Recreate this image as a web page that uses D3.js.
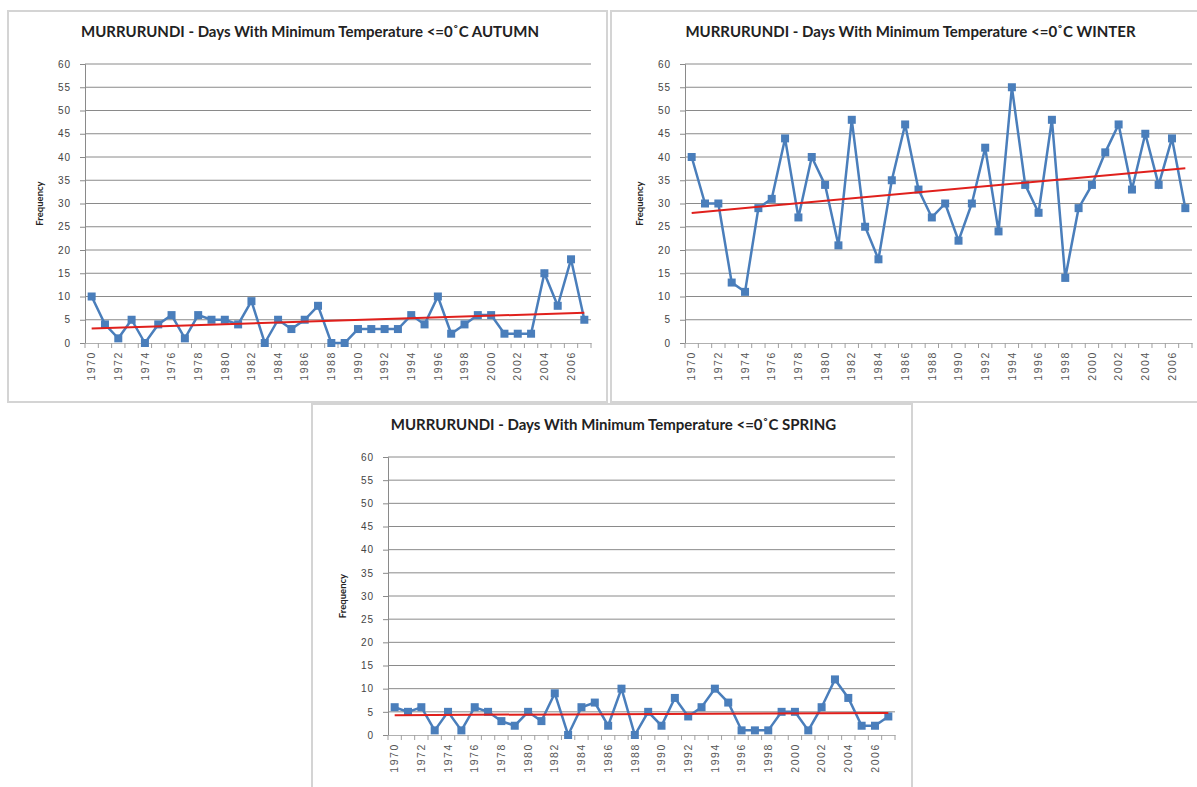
<!DOCTYPE html>
<html>
<head>
<meta charset="utf-8">
<script src="https://cdn.jsdelivr.net/npm/d3@7"></script>
<style>
  body { margin: 0; background: #fff; }
  svg { display: block; font-family: Lato, "Liberation Sans", sans-serif; }
</style>
</head>
<body>
<div id="chart"></div>
<script>
// years on the category axis
var years = [];
for (var yr = 1970; yr <= 2007; yr++) years.push(yr);

// frequency of days with min temp <= 0C
var autumn = [10, 4, 1, 5, 0, 4, 6, 1, 6, 5, 5, 4, 9, 0, 5, 3, 5, 8, 0, 0,
              3, 3, 3, 3, 6, 4, 10, 2, 4, 6, 6, 2, 2, 2, 15, 8, 18, 5];
var winter = [40, 30, 30, 13, 11, 29, 31, 44, 27, 40, 34, 21, 48, 25, 18, 35, 47, 33, 27, 30,
              22, 30, 42, 24, 55, 34, 28, 48, 14, 29, 34, 41, 47, 33, 45, 34, 44, 29];
var spring = [6, 5, 6, 1, 5, 1, 6, 5, 3, 2, 5, 3, 9, 0, 6, 7, 2, 10, 0, 5,
              2, 8, 4, 6, 10, 7, 1, 1, 1, 5, 5, 1, 6, 12, 8, 2, 2, 4];

var yTicks = [0, 5, 10, 15, 20, 25, 30, 35, 40, 45, 50, 55, 60];
var titles = ["MURRURUNDI - Days With Minimum Temperature <=0\u02DAC AUTUMN",
              "MURRURUNDI - Days With Minimum Temperature <=0\u02DAC WINTER",
              "MURRURUNDI - Days With Minimum Temperature <=0\u02DAC SPRING"];

var W = 1197, H = 787;
var svg = d3.select("#chart").append("svg")
    .attr("width", W)
    .attr("height", H);

// panel boxes and plot areas
var panels = [
  {box: [8, 11, 599, 391], plot: {left: 85, right: 591, top: 64, bottom: 343}, data: autumn, title: titles[0]},
  {box: [611, 11, 590, 391], plot: {left: 685, right: 1192, top: 64, bottom: 343}, data: winter, title: titles[1]},
  {box: [312, 404, 600, 390], plot: {left: 388, right: 895, top: 457, bottom: 735}, data: spring, title: titles[2]}
];

function drawPanel(p) {
  var g = svg.append("g");

  g.append("rect")
    .attr("x", p.box[0]).attr("y", p.box[1])
    .attr("width", p.box[2]).attr("height", p.box[3])
    .attr("fill", "#fff")
    .attr("stroke", "#d4d4d4")
    .attr("stroke-width", 2);

  var x = d3.scaleBand()
      .domain(years)
      .range([p.plot.left, p.plot.right])
      .padding(0);
  var y = d3.scaleLinear()
      .domain([0, 60])
      .range([p.plot.bottom, p.plot.top]);
  var cx = function(d, i) { return x(years[i]) + x.bandwidth() / 2; };

  // gridlines
  g.selectAll(".grid")
    .data(yTicks.slice(1))
    .enter().append("line")
    .attr("x1", p.plot.left).attr("x2", p.plot.right)
    .attr("y1", function(d) { return y(d); })
    .attr("y2", function(d) { return y(d); })
    .attr("stroke", "#8a8a8a")
    .attr("stroke-width", 1);

  // y axis
  var yAxis = g.append("g")
      .attr("transform", "translate(" + p.plot.left + ",0)")
      .call(d3.axisLeft(y).tickValues(yTicks).tickSize(5).tickPadding(9));
  yAxis.select(".domain").attr("stroke", "#8a8a8a");
  yAxis.selectAll(".tick line").attr("stroke", "#8a8a8a");
  yAxis.selectAll("text")
    .attr("fill", "#444")
    .style("font-size", "10px")
    .style("letter-spacing", "1px");

  // x axis
  var xAxis = g.append("g")
      .attr("transform", "translate(0," + p.plot.bottom + ")")
      .call(d3.axisBottom(x).tickSize(0).tickFormat(function(d) { return d % 2 === 0 ? d : ""; }));
  xAxis.select(".domain").attr("stroke", "#b0b0b0");
  xAxis.selectAll("text")
    .attr("fill", "#555")
    .style("font-size", "10.5px")
    .style("letter-spacing", "1.6px")
    .style("text-anchor", "end")
    .attr("transform", "rotate(-90)")
    .attr("x", -8)
    .attr("y", 0)
    .attr("dy", ".35em");
  // tick marks between categories
  g.selectAll(".xtick")
    .data(years.concat([2008]))
    .enter().append("line")
    .attr("x1", function(d, i) { return p.plot.left + i * x.bandwidth(); })
    .attr("x2", function(d, i) { return p.plot.left + i * x.bandwidth(); })
    .attr("y1", p.plot.bottom)
    .attr("y2", p.plot.bottom + 5)
    .attr("stroke", "#a0a0a0");

  // series line
  var line = d3.line()
      .x(cx)
      .y(function(d) { return y(d); });
  g.append("path")
    .datum(p.data)
    .attr("d", line)
    .attr("fill", "none")
    .attr("stroke", "#4a7ebb")
    .attr("stroke-width", 2.5);

  g.selectAll(".mark")
    .data(p.data)
    .enter().append("rect")
    .attr("x", function(d, i) { return cx(d, i) - 4; })
    .attr("y", function(d) { return y(d) - 4; })
    .attr("width", 8).attr("height", 8)
    .attr("fill", "#4a7ebb");

  // linear trendline (least squares, like excel)
  var n = p.data.length;
  var mx = d3.mean(p.data, function(d, i) { return i; });
  var my = d3.mean(p.data);
  var sxy = d3.sum(p.data, function(d, i) { return (i - mx) * (d - my); });
  var sxx = d3.sum(p.data, function(d, i) { return (i - mx) * (i - mx); });
  var slope = sxy / sxx, icpt = my - slope * mx;
  g.append("line")
    .attr("x1", cx(0, 0)).attr("y1", y(icpt))
    .attr("x2", cx(0, n - 1)).attr("y2", y(icpt + slope * (n - 1)))
    .attr("stroke", "#e0201c")
    .attr("stroke-width", 2);

  // title
  g.append("text")
    .attr("x", (p.plot.left + p.plot.right) / 2 - 28)
    .attr("y", p.plot.top - 27)
    .attr("text-anchor", "middle")
    .style("font-size", "15px")
    .style("font-weight", "bold")
    .attr("fill", "#222")
    .text(p.title);

  // y label
  g.append("text")
    .attr("transform", "translate(" + (p.plot.left - 42) + "," + ((p.plot.top + p.plot.bottom) / 2) + ") rotate(-90)")
    .attr("text-anchor", "middle")
    .style("font-size", "9.5px")
    .style("font-weight", "bold")
    .attr("fill", "#222")
    .text("Frequency");
}

panels.forEach(drawPanel);
</script>
</body>
</html>
